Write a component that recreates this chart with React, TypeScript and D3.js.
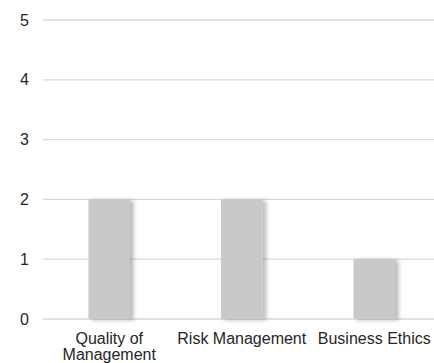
import React from "react";
import * as d3 from "d3";

const categories: string[][] = [["Quality of", "Management"], ["Risk Management"], ["Business Ethics"]];
const values: number[] = [2, 2, 1];
const yTicks: number[] = [0, 1, 2, 3, 4, 5];

const W = 434;
const H = 363;
const margin = { left: 43, top: 20, bottom: 44 };
const plotRight = 440.5;

export default function App() {
  const keys = categories.map((c) => c.join(" "));
  const x = d3.scaleBand<string>().domain(keys).range([margin.left, plotRight]);
  const y = d3.scaleLinear().domain([0, 5]).range([H - margin.bottom, margin.top]);
  const step = x.step();
  const bw = 41.5;

  return (
    <svg width={W} height={H} style={{ position: "absolute", left: 0, top: 0, background: "#fff" }}
      fontFamily="'Liberation Sans', Arial, sans-serif">
      <defs>
        <filter id="barShadow" x="-30%" y="-10%" width="160%" height="130%">
          <feDropShadow dx="3.5" dy="1" stdDeviation="2" floodColor="#000" floodOpacity="0.28" />
        </filter>
      </defs>
      {yTicks.map((t) => (
        <g key={t}>
          <line x1={margin.left} x2={plotRight} y1={y(t)} y2={y(t)} stroke="#d9d9d9" strokeWidth={1.3} />
          <text x={29} y={y(t)} dy="0.35em" textAnchor="end" fontSize={16} fill="#262626">{t}</text>
        </g>
      ))}
      {keys.map((k, i) => {
        const cx = (x(k) as number) + step / 2;
        return (
          <rect key={k} x={cx - bw / 2} y={y(values[i])} width={bw} height={y(0) - y(values[i])}
            fill="#c9c9c9" filter="url(#barShadow)" />
        );
      })}
      {categories.map((lines, i) => {
        const cx = (x(keys[i]) as number) + step / 2;
        return (
          <text key={i} x={cx} y={y(0) + 25} textAnchor="middle" fontSize={16} fill="#262626">
            {lines.map((l, j) => (
              <tspan key={j} x={cx} dy={j === 0 ? 0 : 15.5}>{l}</tspan>
            ))}
          </text>
        );
      })}
    </svg>
  );
}
